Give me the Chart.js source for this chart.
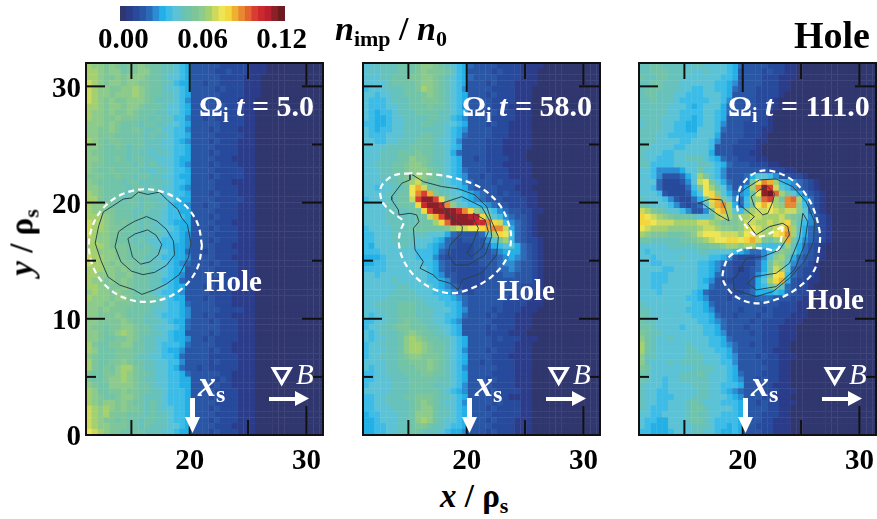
<!DOCTYPE html>
<html>
<head>
<meta charset="utf-8">
<script src="https://cdn.jsdelivr.net/npm/chart.js@4/dist/chart.umd.min.js"></script>
<style>
  html, body { margin: 0; padding: 0; background: #fff; }
  #page { position: relative; width: 877px; height: 519px; overflow: hidden; font-family: "Liberation Serif", serif; font-weight: bold; }
  canvas { position: absolute; filter: blur(0.35px); }
  .t { position: absolute; white-space: nowrap; line-height: 1; }
  .w { color: #fff; }
  svg { position: absolute; left: 0; top: 0; }
</style>
</head>
<body>
<div id="page">
  <canvas id="bar" style="left:60px;top:0"></canvas>
  <canvas id="p1" style="left:0;top:0"></canvas>
  <canvas id="p2" style="left:277px;top:0"></canvas>
  <canvas id="p3" style="left:553px;top:0"></canvas>

  <div class="t" style="left:335px;top:12px;font-size:34px"><i>n</i><sub style="font-size:22px;line-height:0;vertical-align:-6px">imp</sub> / <i>n</i><sub style="font-size:22px;line-height:0;vertical-align:-6px">0</sub></div>
  <div class="t" style="left:794px;top:16px;font-size:38px">Hole</div>
  <div class="t" style="left:440px;top:480px;font-size:33px"><i>x</i> / ρ<sub style="font-size:22px;line-height:0;vertical-align:-6px">s</sub></div>
  <div class="t" style="left:-18px;top:226px;width:80px;text-align:center;font-size:33px;transform:rotate(-90deg)"><i>y</i> / ρ<sub style="font-size:22px;line-height:0;vertical-align:-6px">s</sub></div>

  <div class="t w" style="left:199px;top:91px;font-size:30px">Ω<sub style="font-size:20px;line-height:0;vertical-align:-6px">i</sub> <i>t</i> = 5.0</div>
  <div class="t w" style="left:462px;top:91px;font-size:30px">Ω<sub style="font-size:20px;line-height:0;vertical-align:-6px">i</sub> <i>t</i> = 58.0</div>
  <div class="t w" style="left:728px;top:91px;font-size:30px">Ω<sub style="font-size:20px;line-height:0;vertical-align:-6px">i</sub> <i>t</i> = 111.0</div>

  <div class="t w" style="left:204px;top:267px;font-size:29px">Hole</div>
  <div class="t w" style="left:497px;top:276px;font-size:29px">Hole</div>
  <div class="t w" style="left:806px;top:285px;font-size:29px">Hole</div>

  <div class="t w" style="left:198px;top:366px;font-size:36px"><i>x</i><sub style="font-size:24px;line-height:0;vertical-align:-6px">s</sub></div>
  <div class="t w" style="left:475px;top:366px;font-size:36px"><i>x</i><sub style="font-size:24px;line-height:0;vertical-align:-6px">s</sub></div>
  <div class="t w" style="left:751px;top:366px;font-size:36px"><i>x</i><sub style="font-size:24px;line-height:0;vertical-align:-6px">s</sub></div>

  <div class="t w" style="left:296px;top:360px;font-size:29px;font-weight:normal"><i>B</i></div>
  <div class="t w" style="left:573px;top:360px;font-size:29px;font-weight:normal"><i>B</i></div>
  <div class="t w" style="left:849px;top:360px;font-size:29px;font-weight:normal"><i>B</i></div>

  <svg width="877" height="519" fill="#fff" stroke="none">
    <g id="marks"></g>
  </svg>
</div>

<script>
// impurity density per cell: a=0.000, b=0.005, ... y=0.120. rows run top to bottom, missing cells on the right are a
const cellCodes = 'abcdefghijklmnopqrstuvwxy';
const levelColors = ['#30366e','#2b3c8a','#274a9c','#2a56a6','#2a6ab8','#2a8cd2','#22b0e6','#3cbce6','#5cc3d6','#68c2bc','#72c4a8','#7ec69a','#8ccb8c','#a4d070','#cbda5e','#eee555','#f4d63e','#eeb030','#e88830','#e26430','#d93c30','#cc2830','#b82230','#8c1f28','#6c1c20'];

const rowsEarly = [
'nmmlmlkllmlkkjjihgdddddcccccbbb','nnmlmmkllmmkkjjihgddddccdcccbbb','nnmllmlmmmlkkjiihgdddddccccbbb','onmlmmlmmllkkjjhggddcddccccbbb',
'onmmllmmnmlkkjiihgddddcdcccbbb','onmmlmmmnmlkkjjihgdddddccccbbb','onmlmllmmmlkjjjihfddddccccbbb','nnmlmmlmmlkkkjiihgddddcdcccbb',
'nmmlmllmlkkkjjiihgdddddcccbbb','nmmllmlllkkjkjjhhfddcdcccccbb','mmmlmlkkkjkkjjiihgdddddccccbb','mmllmlkklkjjkiihhfdddcdcccbbb',
'mmlllkkkkkjkjjihhgddddcccccbb','nmlkllkkkkjjjiihgfdddcdcccbbb','mmlkklkjkkjjjiihhgddddccccbbb','mllkkkkjkjjijjihhgdddcdcccbbb',
'mmlkklkjkkjjiiihggddddcccbbbb','mllkkkkkjkjkjiihgfdddcdcccbbb','mlkklkkkkjjijjihhgddddcccccbb','lllkklkkjkkjjiihggdddcdccccbb',
'mlkkkkjkkjjjjjihhgddddcccbbbb','mmlkkkkjkkjkjiihgfddddccccbbb','nmlkkkjjkkjjjiihhgdddcdcccbbb','nnlkkkjkkjkjjiihggddddcccccbb',
'nmmlkkkkkjkkjjhggfddcddcccbbb','nmmllkkkjjkjjihhggddddccccbbb','nnnmlkkkjkjjjihhhgdddcdcccbbb','onnmlklkkjkjiihgggddddcccbbbb',
'onnmllkkkjkjjiihggdddcdcccbbb','onmmllkkjjjjjihhgfddddccccbbb','nnmmlkkkjkjiihhhgfdddcdcccbbb','nnnmlllkkjkjihhggfddddcccbbbb',
'nnmmmllkkkkjjihggeddcdccccbbb','onnmmllkkkjjihhggfddddcccbbbb','onnmlmllkkjjjihgfedddcdcccbbb','nnnmmlmlkkkjiihggdddddccccbbb',
'nnmmmllmkkkjjihgfddddcdcccbbb','nmmlmlmlkkkjjhhgeddddcccccbbb','nnmlllmlkkkjjihggdddcdcccbbbb','mnmmlmllkkkjihhgfddddccccbbbb',
'nmmmlmmlkkkkjihggdddcdcccbbbb','mmmlmlllkkkjjihhgeddddcccbbbb','mmlmlllkkkkjiihhgfdddddccccbb','mmlllmlkkkjjihhhgfddcdcccbbbb',
'mmllllmlkkjjjihggedddcdcccbbb','mllkllmmlkkjiiihgedddddcccbbb','mmlklmnmlkkjjihggddddcdcccbbb','mmlkkllmlkjjiihggfddcdccccbbb',
'nlkkllmmkkjjihhhgeddddcccbbbb','nmkkklllkkjjihggfddddcdccbbbb','mlkkklllkjjiihhgeddddcccccbbb','nlkkllmlkkjjiihhfddddcdcccbbb',
'nlklkmnnlkjjiihgeddcdcccccbbb','lkkllmnmlkkjiihhgedddddccbbbb','lkklmmnmlkjjiihhggddddcdcbbbb','mlkkmmmmlkkjiihhggdddcdccbbbb',
'nmkkllmllkkjjihhhgddddccccbbb','nmlkklmmlkjjjihhhgdddcdcccbbb','nmlmmlmlkkjkjihhhgddddccccbbb','onmnmlmllkjkjiihhgdddcdcccbbb',
'onmnlllkkkjkjjihhgddddccccbbb','onmllklkkjkkjjihhgdddcdcccbbb','onmmlllkkjkjjjiihgddddcccbbbb','ponmllkkkkjjjiihggdddcdcccbbb'
];
const rowsMiddle = [
'iijjjjkkklmmlkjihgeddddccccbbbb','ijijjjkkklmlllkjhgddddcdcccbbb','iiijjkkkllmmlkjihgeddddccccbbb','iiiijkkkklmmlkjihgdddcdcccbbbb',
'hiiijjjkklnmlkjihfddddccccbbb','iihiijjkkklmlkjihgdddcdcccbbb','ihhhijjjkklllkjihgddddccccbbb','ihhhiijjkkklkkjihfddddcccbbbb',
'ihghhijjjkkkkjjihgdddcdcccbbb','ihgghiijjjjkkjjhgfddddccccbbb','hhgghiijjjkkjjiihgdddcdccbbbb','ihghhiijjjjjjjihgfddddcccbbbb',
'ihhhiiijjjkkjjihgeddddcccbbbb','iihhiijjjkkkjiihfddddcccbbbbb','iiiijjjjkkkkjjihgddddcccbbbbb','iiijjjkkklkkjjigeddddcccbbbb',
'iiijjjkkmllkjjihgddcdccccbbb','iijjjkklmmlkjjihgddddcccbbbbb','iiijjkklmmmlkjihgedddccccbbbb','iiijjjklmnmlkjihgfddcdcccbbbb',
'iiiijjklnolkkjihhfedddcdcccbbb','iihiijjkprokkjjihgeddddcccbbb','iiiijjkkpsurljjiihgfeddcdccbbb','hiiijjkkouxxuqkjihgfedddccccbb',
'iiiijjkkkqvxxwsmjihhgfeddcccbb','iiiijjjjkkquxxxxvsqmjihfeddccbb','iiiijjjjjkkoruxxxxwwqmihfeddcb','iiiijjjjjkkknqtxxxxvvsqohfedcb',
'hiiiijjjkkkkkklnooppqrssogedcb','hhiiijjjjjjiiigeddddeinqphedcb','hhiiijjjjiiihgedcddddfilnhedccb','hgiiiijjiiihgfedcccddeghiigedcb',
'hhhiiiiiihhhgedccccdddefgggedcb','ggghiiiiihhhfdcccccddddefgfedcb','gghhiiiiiihhgedcccccdddeffeddcb','hhhhiiiiiiihgedccccccddeefeddcb',
'iihiiiiiiiihgfddcccccdddeedddcb','iiiiijiiiiihhgfdcccccddddddddcb','iiiiiijjiiiihgfedcccdddddddcccb','iiiiijjjjiiihhgfedcdddddddccccb',
'iiiijjjjjjiiihhgfedddddddccccbb','iijjjjkkkjjiiihhgeddddddccccbbb','iiijjjkkkjjjiiihgfddddcdcccbbb','ihiijjkkkjjjiihhgedddcdcccbbb',
'hhiijjklkkjjiihgfdddddccccbbb','hiijjkllkkkjjiihgddddcdcccbbb','ihijjjklmlkkjjihgddddccccbbb','ihiijjkmnmlkkjjihgddddcdcccbbb',
'hiijjjkmnnmlkkjihgddddccccbbb','hiiijjkmnnmlkkjihfdddcdcccbbb','hiijjjklmmlllkjihgddddcccbbbb','iiiijjkklllmlkjihgddcdccccbbb',
'ihiijjkkkllmlkjihfdddddcccbbb','hhiijjjkkkllkkjihgddddccccbbb','hhiiijjjkkkkkjjihgdddcdcccbbb','hiiiijjjkkkkjjjihfddddccccbbb',
'iiiiijjjkkkkkjihgfdddcdccccbb','hhiijjjkklllkjjihgddddcccbbbb','hhiijjjjklmlkjiihfddddcdcccbb','hhiiijjjklmmkjjihgdddcdccccbb',
'ghhiiijjkmmmkjjihgddddcccccbb','gghiiijjkmnmkjiihgdddcdcccbbb','gghhiijjkllkjjihhgddddccccbbb','gghhiijjkkjjjihggfdddcdcccbbb'
];
const rowsLate = [
'jjkkjjjjijjiiiihgeddddcccbb','jjkkkjjjjiijiiihgddddcdccbb','kjjkkjjjiiiiiihhgddddcccbbb','jjkkjjjiiiiiihhgfddddcccbb',
'jkkkjjjiihhiihhgedddccccbb','jkkjjjiihhhiiihgddddccccb','jjkjjjihhhhhiihfddddcccb','jjjjjiiihghiiigeddcdcccb',
'jjjjjiihhhhiihgedddcccb','jjjjiiihhghiihgddddcccb','ijjjiihhgghiihfdddccccb','jjjjiihhggiiihedddcccbb',
'jjjiihhhhhiiigddddcccb','jjjiiiihhiiihfdddcccbb','jjiiiihhiiiihdddccccb','jiiihhiiiiiigdddcccbb',
'jiihhhiijjjihgeddcccbb','jjhhhhiiiijjihgedddcccbb','iihffffgiikiihfdddddddcccbb','iihfdddeginlihfdddegiihfddccb',
'iiiecccdfiopligeddelpsrnhgfedcb','iiheccccehlpnkifdegnsxuoihfedcb','iiihdcccdgipqmigefgkpxytnkigedcb','jiiihfdcceglqrlifehmntunkstngecb',
'kjiiihfdcdeiorsngehkprpnmssmhecb','onlkjiihfddflqrnihlnoopon' + 'oomiecb','qponmlkkkjiijnonlnnoonnnomlkifdcb','qqpooonnnnoonmlllmoonnonoqmjhfdcb',
'ponnnmmmmmnoonmmlmoponnoprnjgedcb','nmlllkkklmopppooonpqonnpqsnigedcb','kkjjjjjkklmnoppqqpqrolkmnrlhfedcb','iiiiijjjjjkkllmnnmnnjhhhinjgedcb',
'ihiiiiiiiijjiiiihgfeefhkmljgedcb','iihiiiijiiiihhgfdcccdfimnkgeddcb','iihhiiiiiihhgfedccccegknmifedcb','iiiihhiiiihhgfddcbcdegkoniedccb',
'iihhhiiiiihhgeddcccdfhlpqhedccb','iihhhiiiiihgfdcccccdginqrgdccbb','iihhiiiiiihhedddcccdghkmjedccb','iiihiiiiihgedddcccdeggghgedccbb',
'iiiiiiiihhgfdddcddddeeedddccbb','jiiiiiiiihhgedddddddddddcccbb','jjiiiiiihhhgfddddcdddcdccccbb','kjiiiiiiihhhgeddcdddcddcccbbb',
'kjjiiiiiiihhgfeddddcdccccbbb','kkjiiiihiiihhgedddcddcccbbb','lkjjiiiiiiihhgfddddcdcccbbb','mkjiijiiiiiihhgedddddcccbbb',
'nkjiiiiijiiihhgfeddcdcccbb','nkjiiiiijjiiihhgeddddccbbb','mjjiiiiijjjiiihgfdddcdccbbb','mjiiijijjjjiiihhfddddcccbb',
'lkiiiiiiijjjjiihgdddddccbb','kjiiiiijjjkjiiihgedddcccbb','kjiihiijjjjjiiihgfddcdccbb','jiiihiiiijjjiihhhgddcccbbb',
'jiihhiiiiijjiihgfedddcccbbb','jiihhhiiijjjiiihgfdddccbbb','jiihhiiijkjiiihhhgddcdccbbb','jihhhiiijkkjiiiihgddddccbb',
'iihhiiiijkjjiihhhgdddcccbb','ihhggiiijkkjihhhhgdddccbbb','ihgggiiiijjjihhghgddcccbbb','hhggghiiijjiihgghgdddccbbb'
];

// curves, [x, y] in rho_s
const holeEarly = [[21.05,16.3],[20.69,18.16],[19.64,19.73],[18.07,20.78],[16.21,21.15],[14.35,20.78],[12.78,19.73],[11.73,18.16],[11.36,16.3],[11.73,14.44],[12.78,12.87],[14.35,11.82],[16.21,11.45],[18.07,11.82],[19.64,12.87],[20.69,14.44],[21.05,16.3]];
const contoursEarly = [
  [[11.9,16.5],[12.2,18.0],[12.6,19.2],[13.4,19.7],[14.3,20.3],[15.0,20.4],[15.6,20.9],[16.4,20.7],[17.4,20.9],[18.1,20.2],[19.0,19.4],[19.3,18.7],[19.8,18.1],[20.1,16.5],[19.9,15.3],[19.1,13.8],[18.0,13.0],[17.0,12.5],[15.9,12.1],[15.2,12.5],[14.0,12.9],[13.0,13.6],[12.4,15.0],[11.9,16.5]],
  [[13.6,16.2],[13.9,17.5],[14.6,18.0],[15.3,18.4],[16.3,18.8],[17.2,18.4],[18.0,17.7],[18.6,16.7],[18.7,15.5],[18.0,14.6],[17.0,14.0],[16.0,13.8],[15.0,14.1],[14.1,14.9],[13.6,16.2]],
  [[14.7,16.9],[15.3,17.3],[16.4,17.65],[17.1,17.2],[17.6,16.4],[17.3,15.5],[16.6,14.9],[15.8,14.7],[15.1,15.3],[14.9,16.1],[14.7,16.9]]
];
const holeMiddle = [[15.14,22.52],[13.85,22.38],[12.85,21.66],[12.57,20.95],[12.85,19.94],[13.71,19.08],[14.57,18.36],[14.28,17.5],[14.2,16.36],[14.57,15.06],[15.57,13.63],[17.0,12.63],[18.71,12.2],[20.43,12.63],[22.14,13.63],[23.43,15.21],[23.8,17.07],[23.43,18.65],[22.71,19.94],[21.28,21.23],[19.57,21.95],[17.57,22.38],[15.14,22.52]];
const contoursMiddle = [
  [[15.14,22.52],[15.14,21.95],[14.43,21.66],[13.57,20.51],[13.57,20.23],[14.14,19.37],[14.2,18.94],[15.14,19.08],[15.71,18.94],[15.91,18.36],[15.43,17.79],[15.57,15.93],[16.28,14.92],[16.0,14.35],[17.14,13.77],[17.57,13.34],[18.57,13.06],[19.28,12.48],[19.63,13.34],[21.28,13.92],[22.57,15.5],[22.71,17.07],[22.14,18.36],[21.71,19.65],[20.71,20.66],[19.28,21.18],[17.85,21.38],[16.28,21.8],[15.14,22.52]],
  [[17.85,19.94],[19.57,20.51],[21.28,19.65],[22.0,18.36],[22.14,17.07],[21.57,15.5],[20.14,14.63],[19.0,14.63],[18.43,15.5],[18.57,16.36],[19.57,17.36],[19.63,17.93],[18.43,18.94],[17.85,19.94]],
  [[20.57,19.08],[21.57,18.51],[21.85,17.5],[21.28,16.07],[20.43,15.35],[20.0,15.64],[20.57,16.64],[21.0,17.79],[20.57,18.65],[20.57,19.08]]
];
const holeLate = [[23.43,17.93],[21.43,17.07],[20.43,17.78],[19.57,19.36],[19.71,21.08],[20.57,22.23],[21.71,22.75],[23.14,22.52],[24.57,21.66],[25.86,19.93],[26.57,17.64],[26.57,16.2],[26.14,14.2],[24.86,12.77],[23.14,11.76],[21.14,11.33],[19.43,11.9],[18.43,13.05],[18.29,13.91],[18.86,15.35],[20.29,16.06],[21.71,16.06],[23.0,15.98],[23.43,17.93]];
const contoursLate = [
  [[20.29,21.23],[21.43,21.95],[22.86,22.03],[24.29,21.37],[25.43,20.08],[26.15,18.36],[26.06,16.64],[25.29,14.92],[24.0,13.49],[22.58,12.34],[21.15,11.91],[19.29,12.48],[19.14,13.48],[19.43,13.62],[20.29,15.2],[21.71,15.34],[23.15,15.92],[24.0,17.22],[23.86,17.93],[23.43,18.22],[22.29,17.93],[21.15,17.22],[20.43,18.22],[21.0,18.79],[19.72,19.8],[19.72,20.8],[20.29,21.23]],
  [[20.72,20.51],[21.0,19.65],[21.72,18.94],[22.15,19.08],[22.58,20.08],[22.72,20.8],[22.15,21.37],[21.43,21.09],[20.72,20.51]],
  [[25.15,19.08],[24.86,16.93],[24.0,14.78],[22.86,13.92],[21.0,13.63],[20.43,13.06],[21.15,12.48],[22.86,12.77],[24.43,14.2],[25.29,16.35],[25.58,18.36],[25.15,19.08]],
  [[16.15,19.94],[17.2,20.31],[18.2,20.23],[18.55,19.37],[18.83,18.42],[17.92,18.94],[16.63,19.85],[16.15,19.94]]
];

const xTicks = [15, 20, 25, 30];
const xTickLabels = [20, 30];
const yTicks = [0, 5, 10, 15, 20, 25, 30];
const yTickLabels = [0, 10, 20, 30];
const colorbarTicks = ['0.00', '0.06', '0.12'];

const FONT = 'Liberation Serif';
const CELL = 0.5, X_MIN = 11.11, X_MAX = 31.42, Y_MAX = 32.01;

// ticks sit inside the frame, on all four sides
const frameTicks = {
  id: 'frameTicks',
  afterDatasetsDraw(chart) {
    const { ctx, chartArea: a, scales: { x, y } } = chart;
    ctx.save();
    ctx.strokeStyle = '#111';
    ctx.lineWidth = 2;
    const seg = (x0, y0, x1, y1) => { ctx.beginPath(); ctx.moveTo(x0, y0); ctx.lineTo(x1, y1); ctx.stroke(); };
    xTicks.forEach(v => {
      const px = x.getPixelForValue(v);
      seg(px, a.top, px, a.top + (v === 20 ? 29 : v === 30 ? 22 : 16));
      seg(px, a.bottom, px, a.bottom - (v === 30 ? 29 : 15));
    });
    yTicks.forEach(v => {
      const py = y.getPixelForValue(v);
      const major = v % 10 === 0;
      seg(a.left, py, a.left + (major ? 19 : 10), py);
      seg(a.right, py, a.right - (major ? 21 : 11), py);
    });
    ctx.strokeRect(a.left, a.top, a.right - a.left, a.bottom - a.top);
    ctx.restore();
  }
};

function makePanel(id, rows, hole, contours, showY) {
  const cells = [], colors = [];
  rows.forEach((row, r) => {
    for (let c = 0; c < 41; c++) {
      const level = Math.max(cellCodes.indexOf(row[c] || 'a'), 0);
      cells.push({ x: X_MIN + (c + 0.5) * CELL, y: Y_MAX - (r + 0.5) * CELL });
      colors.push(levelColors[level]);
    }
  });
  const toPts = list => list.map(p => ({ x: p[0], y: p[1] }));
  // higher order is drawn first, so the cells stay under the curves
  const datasets = [{
    order: 10, data: cells, showLine: false, pointStyle: 'rect', pointRadius: 4.4, pointBorderWidth: 0,
    pointBackgroundColor: colors, pointHoverRadius: 4.4
  }];
  contours.forEach(c => datasets.push({
    order: 2, data: toPts(c), showLine: true, pointRadius: 0, borderColor: '#26444f', borderWidth: 1, tension: 0
  }));
  datasets.push({
    order: 1, data: toPts(hole), showLine: true, pointRadius: 0, borderColor: '#fff', borderWidth: 2.2, borderDash: [6, 4], tension: 0.35
  });

  const tickFont = { family: FONT, weight: 'bold', size: 29 };
  const cv = document.getElementById(id);
  cv.width = 340; cv.height = 475;
  cv.style.width = '340px'; cv.style.height = '475px';
  new Chart(cv, {
    type: 'scatter',
    data: { datasets },
    plugins: [frameTicks],
    options: {
      responsive: false, animation: false, events: [],
      layout: { padding: { top: 63, right: 17 } },
      plugins: { legend: { display: false }, tooltip: { enabled: false } },
      scales: {
        x: {
          type: 'linear', min: X_MIN, max: X_MAX,
          grid: { display: false, drawTicks: false }, border: { display: false },
          afterBuildTicks: s => { s.ticks = xTicks.map(v => ({ value: v })); },
          afterFit: s => { s.height = 40; },
          ticks: { font: tickFont, color: '#000', padding: 9, maxRotation: 0, autoSkip: false,
            callback: v => xTickLabels.includes(v) ? String(v) : '' }
        },
        y: {
          type: 'linear', min: 0, max: Y_MAX,
          grid: { display: false, drawTicks: false }, border: { display: false },
          afterBuildTicks: s => { s.ticks = yTicks.map(v => ({ value: v })); },
          afterFit: s => { s.width = 86; },
          ticks: { font: tickFont, color: '#000', padding: 5, labelOffset: 3, autoSkip: false,
            callback: v => (showY && yTickLabels.includes(v)) ? String(v) : '' }
        }
      }
    }
  });
}

makePanel('p1', rowsEarly, holeEarly, contoursEarly, true);
makePanel('p2', rowsMiddle, holeMiddle, contoursMiddle, false);
makePanel('p3', rowsLate, holeLate, contoursLate, false);

// colour bar, one bar per level
const barCv = document.getElementById('bar');
barCv.width = 290; barCv.height = 56;
barCv.style.width = '290px'; barCv.style.height = '56px';
const barLabels = cellCodes.split('').map((c, i) => (i * 0.005).toFixed(3));
new Chart(barCv, {
  type: 'bar',
  data: {
    labels: barLabels,
    datasets: [{ data: barLabels.map(() => 1), backgroundColor: levelColors, barPercentage: 1.15, categoryPercentage: 1 }]
  },
  options: {
    responsive: false, animation: false, events: [],
    layout: { padding: { top: 6, left: 60, right: 65 } },
    plugins: { legend: { display: false }, tooltip: { enabled: false } },
    scales: {
      x: {
        grid: { display: false, drawTicks: false }, border: { display: false },
        afterFit: s => { s.height = 35; },
        ticks: { font: { family: FONT, weight: 'bold', size: 29 }, color: '#000', padding: 2, maxRotation: 0, autoSkip: false,
          callback: (v, i) => i % 12 === 0 ? colorbarTicks[i / 12] : '' }
      },
      y: { display: false, min: 0, max: 1 }
    }
  }
});

// arrows and the nabla, shifted per panel
const panelShift = [0, 277, 553];
document.getElementById('marks').innerHTML = panelShift.map(d => `
  <g transform="translate(${d},0)">
    <polygon points="190,398 195,398 195,417 200,417 192.5,433 185,417 190,417"/>
    <polygon points="269,397 295,397 295,391 309,398.500 295,406 295,401 269,401"/>
    <path d="M270.500,367 H293 L281.700,386.500 Z M276,370 L281.700,380 L287.500,370 Z" fill-rule="evenodd"/>
  </g>`).join('');
</script>
</body>
</html>
